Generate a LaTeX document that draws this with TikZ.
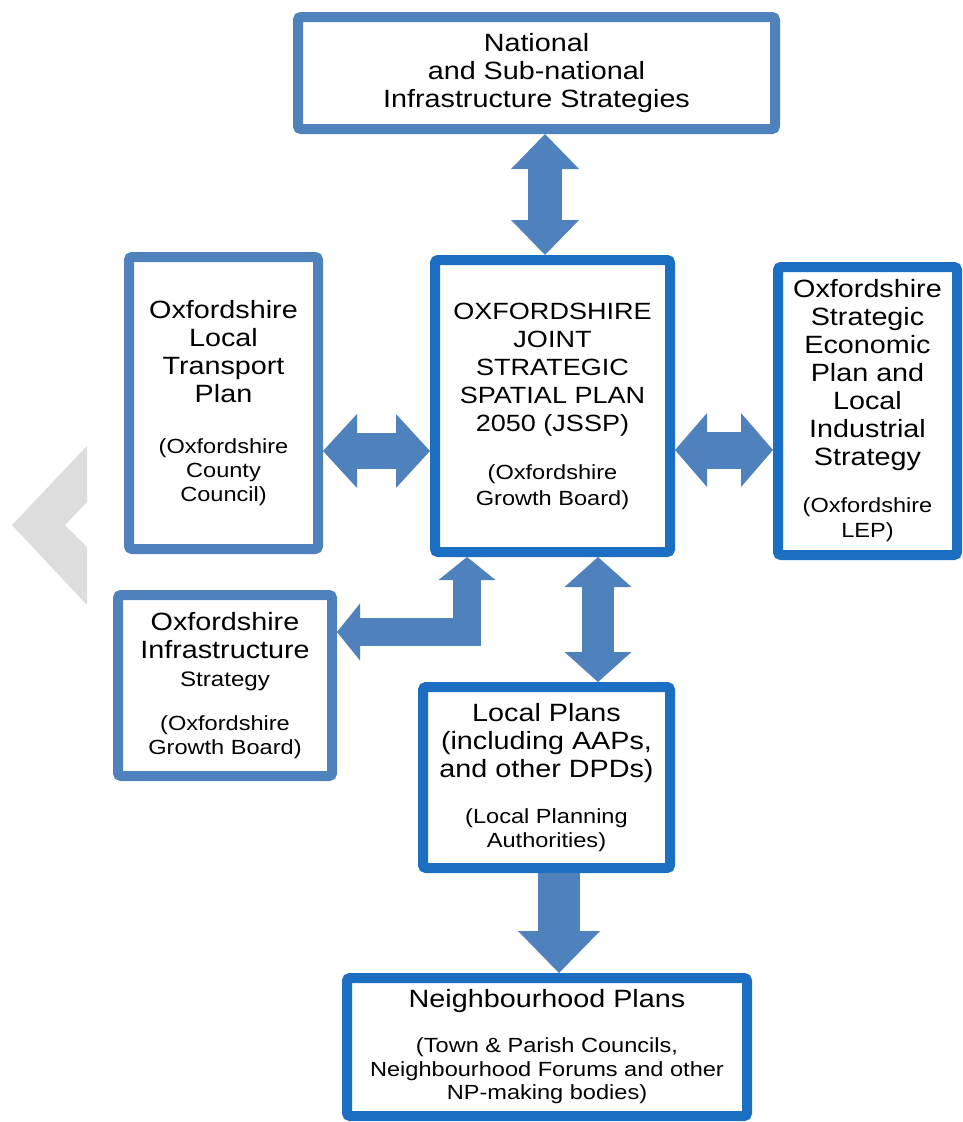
\documentclass[tikz,border=0pt]{standalone}
\usepackage{fontspec}
\setmainfont{Liberation Sans}[FakeStretch=1.15]
\usetikzlibrary{arrows.meta}
\definecolor{paleblue}{HTML}{4F81BD}
\definecolor{deepblue}{HTML}{1C6EC2}
\definecolor{chevgray}{HTML}{DDDDDD}
\newcommand{\boxtitle}{\fontsize{25}{28}\selectfont}
\newcommand{\boxsub}{\fontsize{20.5}{24}\selectfont}

\begin{document}
\begin{tikzpicture}[x=1pt, y=-1pt,
  plan/.style={draw=paleblue, line width=10pt, rounded corners=3pt, fill=white,
    align=center, font=\boxtitle, inner sep=0pt},
  keyplan/.style={plan, draw=deepblue},
  fat/.style n args={3}{paleblue, line width=#1,
    >={Triangle[width=#2,length=#3,line width=0pt]}}]
\useasboundingbox (0,0) rectangle (963,1122);
\fill[chevgray] (87,446) -- (87,502) -- (65,525) -- (87,547) -- (87,605) -- (12,525) -- cycle;

\node[plan, minimum width=477pt, minimum height=112pt] (natl) at (536.5,73) {National\\and Sub-national\\Infrastructure Strategies};
\node[keyplan, minimum width=235pt, minimum height=292pt, font=\fontsize{23.5}{28}\selectfont] (jssp) at (552.5,406) {OXFORDSHIRE\\JOINT\\STRATEGIC\\SPATIAL PLAN\\2050 (JSSP)\\[20pt]\boxsub(Oxfordshire\\[-2pt]\boxsub Growth Board)};
\node[plan, minimum width=189pt, minimum height=292pt] (ltp) at (223.5,403) {Oxfordshire\\Local\\Transport\\Plan\\[23pt]\boxsub(Oxfordshire\\[-4pt]\boxsub County\\[-4pt]\boxsub Council)};
\node[keyplan, minimum width=179pt, minimum height=288pt] (lep) at (867.5,411) {Oxfordshire\\Strategic\\Economic\\Plan and\\Local\\Industrial\\Strategy\\[19pt]\boxsub(Oxfordshire\\[-3pt]\boxsub LEP)};
\node[plan, minimum width=214pt, minimum height=181pt] (infra) at (225,685.5) {Oxfordshire\\Infrastructure\\\fontsize{21}{28}\selectfont Strategy\\[16pt]\boxsub(Oxfordshire\\[-4pt]\boxsub Growth Board)};
\node[keyplan, minimum width=247pt, minimum height=181pt] (local) at (546.5,777.5) {Local Plans\\(including AAPs,\\and other DPDs)\\[18pt]\boxsub(Local Planning\\[-4pt]\boxsub Authorities)};
\node[keyplan, minimum width=400pt, minimum height=138pt] (nbh) at (547,1047) {Neighbourhood Plans\\[17pt]\boxsub(Town \& Parish Councils,\\[-4.5pt]\boxsub Neighbourhood Forums and other\\[-4.5pt]\boxsub NP-making bodies)};

\coordinate (topx) at (545,0);
\coordinate (leftrow) at (0,451);
\coordinate (rightrow) at (0,450);
\coordinate (elbx) at (467,0);
\coordinate (elby) at (0,632);
\coordinate (midx) at (598,0);
\coordinate (lowx) at (559,0);

\draw[fat={34pt}{68pt}{35pt}, <->] (natl.south -| topx) -- (jssp.north -| topx);
\draw[fat={36pt}{74pt}{34pt}, <->] (ltp.east |- leftrow) -- (jssp.west |- leftrow);
\draw[fat={37pt}{74pt}{32pt}, <->] (jssp.east |- rightrow) -- (lep.west |- rightrow);
\draw[fat={28pt}{57pt}{23pt}, <->] (jssp.south -| elbx) |- (infra.east |- elby);
\draw[fat={32pt}{67pt}{30pt}, <->] (jssp.south -| midx) -- (local.north -| midx);
\draw[fat={42pt}{82pt}{42pt}, ->] (local.south -| lowx) -- (nbh.north -| lowx);
\end{tikzpicture}
\end{document}
